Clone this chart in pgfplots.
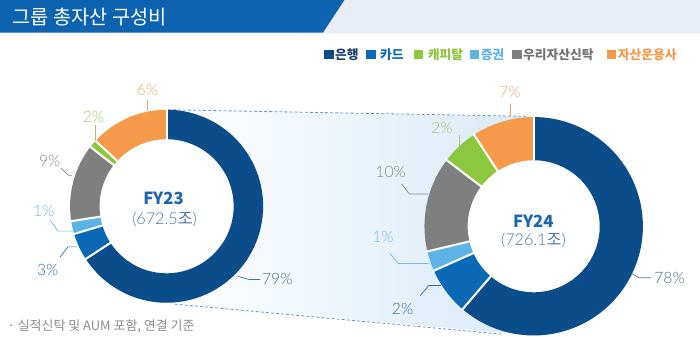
\documentclass[border=0pt]{standalone}
\usepackage{pgfplots}
\pgfplotsset{compat=1.18}
\usepackage{fontspec}
\setmainfont{Noto Sans CJK KR}
\newfontfamily\pctfont{Lato Light}
\definecolor{cNavy}{HTML}{0B4C8A}
\definecolor{cBlue}{HTML}{0A68B4}
\definecolor{cLBlue}{HTML}{5DB2E6}
\definecolor{cGray}{HTML}{7F7F7F}
\definecolor{cGreen}{HTML}{8DC63F}
\definecolor{cOrange}{HTML}{F5994A}
\definecolor{titleBlue}{HTML}{0E63B0}
\definecolor{bandGray}{HTML}{E9EEF6}
\definecolor{shadeBlue}{HTML}{D8E9F7}
\definecolor{dashBlue}{HTML}{6A9ACB}
\definecolor{lNavy}{HTML}{4D7096}
\definecolor{lBlue}{HTML}{2F6EAC}
\definecolor{lLBlue}{HTML}{6DBAE6}
\definecolor{lGray}{HTML}{8A8A8A}
\definecolor{lGreen}{HTML}{9DCB6B}
\definecolor{lOrange}{HTML}{F0A56C}
\definecolor{fyBlue}{HTML}{1A66B0}
\definecolor{subBlue}{HTML}{4A78A8}
\definecolor{legNavy}{HTML}{1E3D6B}
\definecolor{noteGray}{HTML}{8C8C8C}
% slice: cx, cy, mid radius, thickness, angle from, angle to, colour
\newcommand{\slice}[7]{\addplot[draw=#7, line width=#4bp, line cap=butt, domain=#5:#6, samples=90, variable=\t] ({#1+#3*cos(\t)},{#2-#3*sin(\t)});}
% separator: cx, cy, r in, r out, angle
\newcommand{\sep}[5]{\addplot[white, line width=2bp, domain=#3:#4, samples=2, variable=\r] ({#1+\r*cos(#5)},{#2-\r*sin(#5)});}
% hole: cx, cy, r
\newcommand{\hole}[3]{\addplot[draw=none, fill=white, domain=0:360, samples=120, variable=\t] ({#1+#3*cos(\t)},{#2-#3*sin(\t)}) -- cycle;}
\newcommand{\sq}[1]{\textcolor{#1}{\rule[-0.3bp]{9.5bp}{9.5bp}}\hspace{1.5bp}}
\tikzset{leg/.style={anchor=west, inner sep=0pt, font=\bfseries\fontsize{12.6}{15}\selectfont},
  pct/.style={font=\pctfont\fontsize{15.5}{18}\selectfont}}
\begin{document}
\begin{tikzpicture}
\begin{axis}[width=700bp, height=351bp, scale only axis,
  xmin=0, xmax=700, ymin=0, ymax=351, y dir=reverse,
  hide axis, clip=false]
% title band
\addplot[draw=none, fill=bandGray] coordinates {(321,4) (692,4) (692,37) (300,37)} -- cycle;
\addplot[draw=none, fill=titleBlue] coordinates {(3,4) (342,4) (321,36) (3,36)} -- cycle;
\node[anchor=west, text=white, font=\fontsize{19.5}{22}\selectfont] at (12,20.5) {그룹 총자산 구성비};
% legend
\node[leg, text=legNavy] at (321.7,57.5) {\sq{cNavy}은행};
\node[leg, text=cBlue] at (363,57.5) {\sq{cBlue} 카드};
\node[leg, text=cGreen] at (410,57.5) {\sq{cGreen} 캐피탈};
\node[leg, text=cLBlue] at (465,57.5) {\sq{cLBlue}증권};
\node[leg, text=cGray!90!black] at (506.7,57.5) {\sq{cGray}우리자산신탁};
\node[leg, text=cOrange] at (600,57.5) {\sq{cOrange}자산운용사};
% connecting band
\addplot[draw=none, left color=white, right color=shadeBlue] coordinates {(175,112) (528,119) (528,334) (175,303.3)} -- cycle;
\addplot[dashBlue, line width=0.8bp, dash pattern=on 3bp off 2bp] coordinates {(168,112) (522,118.5)};
\addplot[dashBlue, line width=0.8bp, dash pattern=on 3bp off 2bp] coordinates {(175,303.3) (498,333)};
\hole{167}{207}{66}
\hole{528.3}{226.7}{65}
% ---------- FY23 donut (centre 167,207; r 66-95) ----------
\slice{167}{207}{80.5}{29}{-146.9}{90}{cNavy}
\slice{167}{207}{80.5}{29}{-163.3}{-146.9}{cBlue}
\slice{167}{207}{80.5}{29}{-171.1}{-163.3}{cLBlue}
\slice{167}{207}{80.5}{29}{-217.9}{-171.1}{cGray}
\slice{167}{207}{80.5}{29}{-222.6}{-217.9}{cGreen}
\slice{167}{207}{80.5}{29}{-270}{-222.6}{cOrange}
\sep{167}{207}{65}{96.5}{90}
\sep{167}{207}{65}{96.5}{-146.9}
\sep{167}{207}{65}{96.5}{-163.3}
\sep{167}{207}{65}{96.5}{-171.1}
\sep{167}{207}{65}{96.5}{-217.9}
\sep{167}{207}{65}{96.5}{-222.6}
% ---------- FY24 donut (centre 528.3,226.7; r 65-107.5) ----------
\slice{528.3}{226.7}{86.25}{42.5}{-130.6}{90}{cNavy}
\slice{528.3}{226.7}{86.25}{42.5}{-156}{-130.6}{cBlue}
\slice{528.3}{226.7}{86.25}{42.5}{-166.7}{-156}{cLBlue}
\slice{528.3}{226.7}{86.25}{42.5}{-217.2}{-166.7}{cGray}
\slice{528.3}{226.7}{86.25}{42.5}{-236.9}{-217.2}{cGreen}
\slice{528.3}{226.7}{86.25}{42.5}{-270}{-236.9}{cOrange}
\sep{528.3}{226.7}{64}{109}{90}
\sep{528.3}{226.7}{64}{109}{-130.6}
\sep{528.3}{226.7}{64}{109}{-156}
\sep{528.3}{226.7}{64}{109}{-166.7}
\sep{528.3}{226.7}{64}{109}{-217.2}
\sep{528.3}{226.7}{64}{109}{-236.9}
% ---------- FY23 labels ----------
\addplot[lOrange, line width=0.7bp] coordinates {(148,102) (148,113)};
\node[pct, text=lOrange] at (148,93) {6\%};
\addplot[lGreen, line width=0.7bp] coordinates {(97,127) (97,143)};
\node[pct, text=lGreen] at (95,119.5) {2\%};
\addplot[lGray, line width=0.7bp] coordinates {(63,169.5) (71,177) (74,177)};
\node[pct, text=lGray] at (52,162) {9\%};
\addplot[lLBlue, line width=0.7bp] coordinates {(52,220) (60,231.5) (75,231.5)};
\node[pct, text=lLBlue] at (46,212) {1\%};
\addplot[lBlue, line width=0.7bp] coordinates {(62,257) (70,247) (79,247)};
\node[pct, text=lBlue] at (50,270) {3\%};
\addplot[lNavy, line width=0.7bp] coordinates {(237,276) (248,279) (259,279)};
\node[pct, text=lNavy] at (276,279) {79\%};
\node[text=fyBlue, font=\bfseries\fontsize{16.5}{19}\selectfont] at (164,199.5) {FY23};
\node[text=subBlue, font=\fontsize{16}{18}\selectfont] at (165,219.5) {{\pctfont(672.5}조{\pctfont)}};
% ---------- FY24 labels ----------
\addplot[lOrange, line width=0.7bp] coordinates {(505,106) (505,119)};
\node[pct, text=lOrange] at (505,95) {7\%};
\addplot[lGreen, line width=0.7bp] coordinates {(455,137) (455,149)};
\node[pct, text=lGreen] at (438,130) {2\%};
\addplot[lGray, line width=0.7bp] coordinates {(398.3,185) (406,195) (425,195)};
\node[pct, text=lGray] at (387.5,173.3) {10\%};
\addplot[lLBlue, line width=0.7bp] coordinates {(386.7,253.3) (395,263.3) (425,263.3)};
\node[pct, text=lLBlue] at (380,237) {1\%};
\addplot[lBlue, line width=0.7bp] coordinates {(416.7,295) (425,285) (437,285)};
\node[pct, text=lBlue] at (399.3,308.3) {2\%};
\addplot[lNavy, line width=0.7bp] coordinates {(625,273.3) (631.7,277.3) (643.3,277.3)};
\node[pct, text=lNavy] at (662,277.3) {78\%};
\node[text=fyBlue, font=\bfseries\fontsize{16.5}{19}\selectfont] at (528,221.5) {FY24};
\node[text=subBlue, font=\fontsize{16}{18}\selectfont] at (528,240.5) {{\pctfont(726.1}조{\pctfont)}};
% footnote
\node[anchor=west, text=noteGray, font=\fontsize{12.8}{15}\selectfont] at (7,325) {· 실적신탁 및 AUM 포함, 연결 기준};
\end{axis}
\end{tikzpicture}
\end{document}
